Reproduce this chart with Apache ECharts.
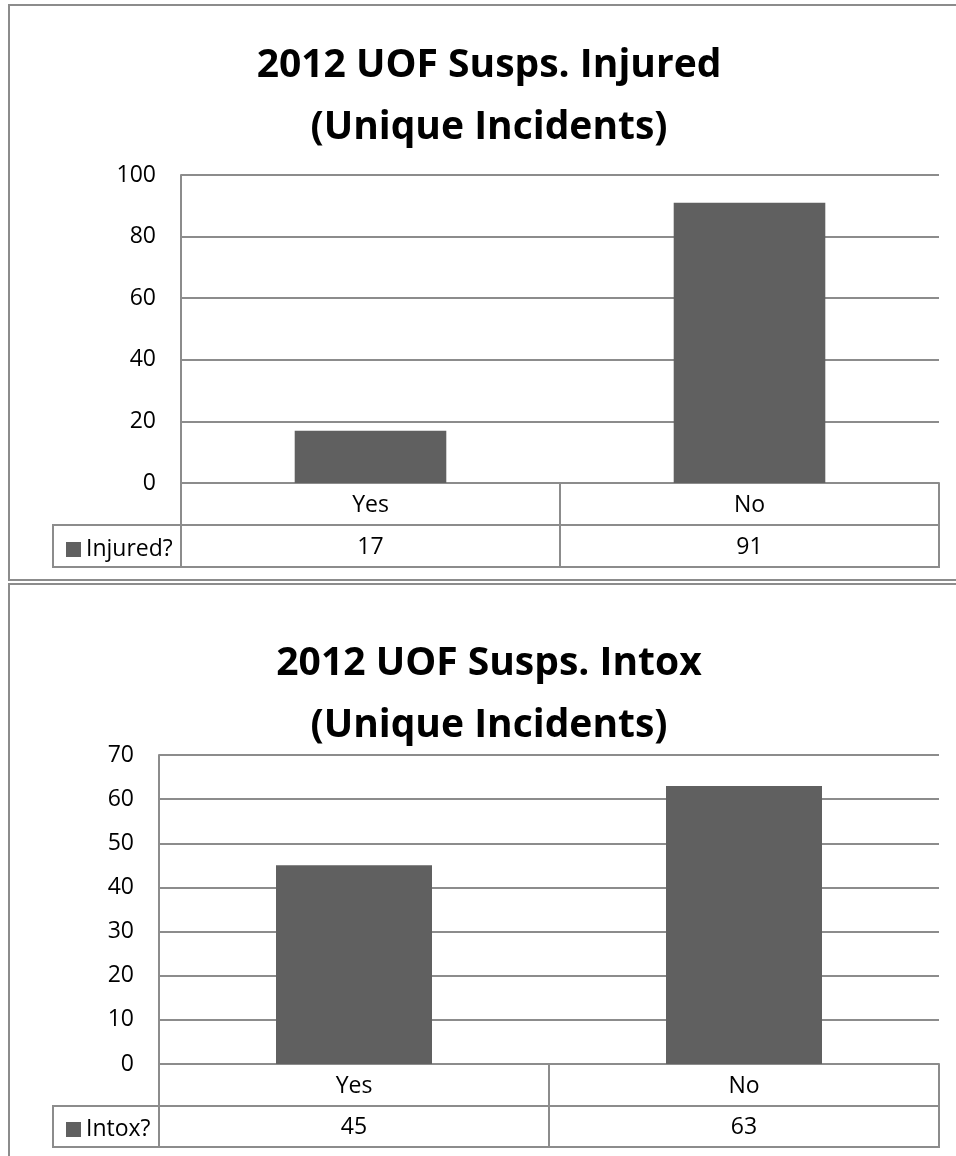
<!DOCTYPE html>
<html>
<head>
<meta charset="utf-8">
<script src="https://cdn.jsdelivr.net/npm/echarts@6/dist/echarts.min.js"></script>
<style>
  html, body { margin: 0; padding: 0; background: #fff; }
  #main { width: 956px; height: 1156px; }
</style>
</head>
<body>
<div id="main"></div>
<script>
// Categories shared by both charts
const categories = ['Yes', 'No'];

// Suspects injured (unique incidents)
const injuredName = 'Injured?';
const injuredValues = [17, 91];
const injuredAxis = { min: 0, max: 100, interval: 20 };

// Suspects intoxicated (unique incidents)
const intoxName = 'Intox?';
const intoxValues = [45, 63];
const intoxAxis = { min: 0, max: 70, interval: 10 };

const titles = [
  '2012 UOF Susps. Injured\n(Unique Incidents)',
  '2012 UOF Susps. Intox\n(Unique Incidents)'
];

const FONT = '"Open Sans", "DejaVu Sans", sans-serif';
const LINE = '#8c8c8c';
const BAR = '#606060';
const LABEL_SIZE = 23;

// Layout of one chart block: plot grid + data table below it
function block(i, cfg) {
  const plotGrid = i * 2;
  return {
    title: {
      text: cfg.title,
      left: 484, top: cfg.titleTop, textAlign: 'center',
      textStyle: { fontFamily: FONT, fontWeight: 'bold', fontSize: 39, lineHeight: 62, color: '#000' }
    },
    grids: [
      { left: cfg.plotLeft, right: 17, top: cfg.plotTop, height: cfg.plotHeight, show: false },
      { left: 53, width: 886, top: cfg.tableTop, height: cfg.rowH, show: true,
        borderColor: LINE, borderWidth: 2, backgroundColor: 'transparent' }
    ],
    xAxes: [
      {
        type: 'category', gridIndex: plotGrid, data: categories, position: 'bottom',
        axisLine: { show: true, lineStyle: { color: LINE, width: 2 } },
        axisTick: { show: true, length: cfg.rowH * 2 + 1, lineStyle: { color: LINE, width: 2 } },
        axisLabel: { fontFamily: FONT, fontSize: LABEL_SIZE, color: '#000', margin: 11 }
      },
      {
        type: 'category', gridIndex: plotGrid, position: 'bottom', offset: cfg.rowH,
        data: cfg.values.map(v => String(v)),
        axisLine: { show: false }, axisTick: { show: false },
        axisLabel: { fontFamily: FONT, fontSize: LABEL_SIZE, color: '#000', margin: 11 }
      }
    ],
    yAxis: {
      type: 'value', gridIndex: plotGrid,
      min: cfg.axis.min, max: cfg.axis.max, interval: cfg.axis.interval,
      axisLine: { show: true, lineStyle: { color: LINE, width: 2 } },
      axisTick: { show: false },
      axisLabel: { fontFamily: FONT, fontSize: LABEL_SIZE, color: '#000', margin: 25 },
      splitLine: { show: true, lineStyle: { color: LINE, width: 2 } }
    },
    series: {
      type: 'bar', name: cfg.name, xAxisIndex: i * 2, yAxisIndex: i,
      data: cfg.values, barCategoryGap: '60%',
      itemStyle: { color: BAR }
    },
    legend: {
      data: [cfg.name], left: 61, top: cfg.legendTop, orient: 'horizontal',
      icon: 'rect', itemWidth: 15, itemHeight: 15,
      textStyle: { fontFamily: FONT, fontSize: LABEL_SIZE, color: '#000' },
      selectedMode: false
    }
  };
}

const blocks = [
  block(0, { title: titles[0], titleTop: 30, plotLeft: 181, plotTop: 175, plotHeight: 308,
             tableTop: 525, rowH: 42, values: injuredValues, axis: injuredAxis,
             name: injuredName, legendTop: 533 }),
  block(1, { title: titles[1], titleTop: 628, plotLeft: 159, plotTop: 755, plotHeight: 309,
             tableTop: 1106, rowH: 41, values: intoxValues, axis: intoxAxis,
             name: intoxName, legendTop: 1113 })
];

const chart = echarts.init(document.getElementById('main'), null, { renderer: 'canvas' });
chart.setOption({
  backgroundColor: '#fff',
  animation: false,
  title: blocks.map(b => b.title),
  grid: blocks.flatMap(b => b.grids),
  xAxis: blocks.flatMap(b => b.xAxes),
  yAxis: blocks.map(b => b.yAxis),
  series: blocks.map(b => b.series),
  legend: blocks.map(b => b.legend),
  // outer chart frames
  graphic: [
    { type: 'rect', shape: { x: 9, y: 5, width: 1000, height: 575 },
      style: { fill: 'none', stroke: LINE, lineWidth: 2 }, silent: true },
    { type: 'rect', shape: { x: 9, y: 584, width: 1000, height: 700 },
      style: { fill: 'none', stroke: LINE, lineWidth: 2 }, silent: true }
  ]
});
</script>
</body>
</html>
